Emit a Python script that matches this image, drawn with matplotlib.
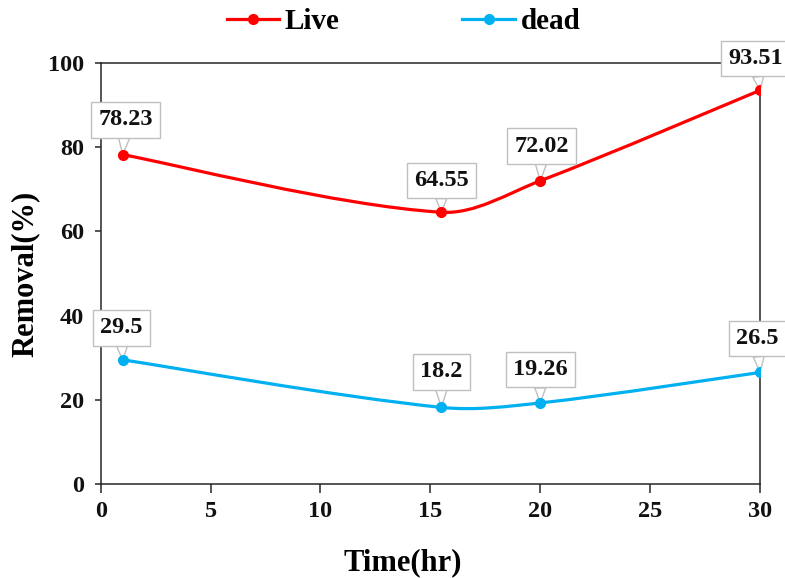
import numpy as np
import matplotlib
matplotlib.use("Agg")
import matplotlib.pyplot as plt
from matplotlib.path import Path
from matplotlib.patches import PathPatch
from matplotlib.lines import Line2D

# ---- data ----
time_hr = [1, 15.5, 20, 30]
live = [78.23, 64.55, 72.02, 93.51]
dead = [29.5, 18.2, 19.26, 26.5]
live_labels = ["78.23", "64.55", "72.02", "93.51"]
dead_labels = ["29.5", "18.2", "19.26", "26.5"]
x_ticks = [0, 5, 10, 15, 20, 25, 30]
y_ticks = [0, 20, 40, 60, 80, 100]
series_names = ["Live", "dead"]

# ---- style ----
RED = "#FF0000"
BLUE = "#00B0F0"
SPINE = "#262626"
plt.rcParams["font.family"] = ["Liberation Serif", "DejaVu Serif"]
plt.rcParams["font.weight"] = "bold"

# callout offsets (points) per label: (dx, dy)
live_offsets = [(2, 25), (0, 23), (1, 25), (-3, 23)]
dead_offsets = [(-1, 23), (0, 25.5), (0, 24), (-2, 24.5)]

fig = plt.figure(figsize=(7.85, 5.78), dpi=100)
ax = fig.add_axes([0.1283, 0.1626, 0.8399, 0.7284])
ax.set_xlim(0, 30)
ax.set_ylim(0, 100)


def smooth_path(x, y):
    """Excel-like smoothed line: cubic Bezier, tangents scaled by segment length
    (computed in display space)."""
    disp = ax.transData.transform(np.column_stack([x, y]).astype(float))
    n = len(disp)
    seg = np.hypot(*np.diff(disp, axis=0).T)
    verts = [disp[0]]
    codes = [Path.MOVETO]
    for i in range(n - 1):
        p1, p2 = disp[i], disp[i + 1]
        if i > 0:
            t1 = (p2 - disp[i - 1]) * seg[i] / (seg[i - 1] + seg[i])
        else:
            t1 = (p2 - p1) * 0.5
        if i + 2 < n:
            t2 = (disp[i + 2] - p1) * seg[i] / (seg[i] + seg[i + 1])
        else:
            t2 = (p2 - p1) * 0.5
        c1 = p1 + t1 / 3.0
        c2 = p2 - t2 / 3.0
        verts += [c1, c2, p2]
        codes += [Path.CURVE4] * 3
    verts = ax.transData.inverted().transform(np.array(verts))
    return Path(verts, codes)


for ys, col in [(live, RED), (dead, BLUE)]:
    patch = PathPatch(smooth_path(time_hr, ys), fill=False, edgecolor=col,
                      lw=2.3, zorder=2, capstyle="round")
    ax.add_patch(patch)
    ax.plot(time_hr, ys, "o", color=col, ms=7, zorder=4)

for ys, labels, offs in [(live, live_labels, live_offsets),
                         (dead, dead_labels, dead_offsets)]:
    for xv, yv, lab, off in zip(time_hr, ys, labels, offs):
        ax.annotate(lab, xy=(xv, yv), xytext=off, textcoords="offset points",
                    ha="center", va="center", fontsize=17.5, fontweight="bold",
                    color="#111111", zorder=3, annotation_clip=False,
                    bbox=dict(boxstyle="square,pad=0.3", fc="white",
                              ec="#BFBFBF", lw=1.0),
                    arrowprops=dict(arrowstyle="wedge,tail_width=0.45,shrink_factor=0.5",
                                    fc="white", ec="#BFBFBF", lw=1.0,
                                    shrinkA=0, shrinkB=0))

ax.set_xticks(x_ticks)
ax.set_yticks(y_ticks)
ax.tick_params(axis="x", direction="out", length=6.5, width=1.1, pad=6,
               labelsize=17.5, colors=SPINE)
ax.tick_params(axis="y", direction="out", length=4, width=1.1, pad=8,
               labelsize=17.5, colors=SPINE)
for lab in ax.get_xticklabels() + ax.get_yticklabels():
    lab.set_fontweight("bold")
    lab.set_color("#111111")
for sp in ax.spines.values():
    sp.set_color(SPINE)
    sp.set_linewidth(1.1)

ax.set_xlabel("Time(hr)", fontsize=22, fontweight="bold", va="center")
ax.xaxis.set_label_coords(0.4585, -0.1876)
ax.set_ylabel("Removal(%)", fontsize=22, fontweight="bold", va="center")
ax.yaxis.set_label_coords(-0.1148, 0.5)

handles = [Line2D([], [], color=RED, marker="o", ms=7, lw=2.3),
           Line2D([], [], color=BLUE, marker="o", ms=7, lw=2.3)]
fig.legend(handles, series_names, loc="center", bbox_to_anchor=(0.514, 0.962),
           ncol=2, frameon=False, handlelength=1.8,
           handletextpad=0.2, columnspacing=4.2, prop=dict(weight="bold", size=21))

fig.savefig("out.png", dpi=100)
